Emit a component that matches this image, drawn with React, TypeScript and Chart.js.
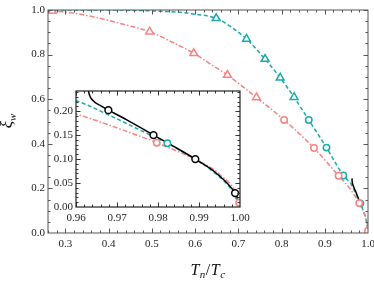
import React, { useEffect, useRef } from 'react';
import { Chart, registerables } from 'chart.js';
Chart.register(...registerables);

// ---------- data ----------
const tealCurveX = [0.26, 0.4, 0.5, 0.56, 0.6, 0.649, 0.685, 0.719, 0.762, 0.797, 0.829, 0.863, 0.904, 0.943, 0.96, 0.968, 0.975, 0.9823, 0.989, 0.994, 0.998, 1.0];
const tealCurveY = [1.0, 1.0, 0.996, 0.99, 0.981, 0.963, 0.922, 0.87, 0.78, 0.696, 0.609, 0.507, 0.383, 0.258, 0.222, 0.192, 0.163, 0.133, 0.1, 0.07, 0.035, 0.0];

const pinkCurveX = [0.26, 0.27, 0.304, 0.38, 0.44, 0.495, 0.55, 0.597, 0.64, 0.675, 0.742, 0.806, 0.875, 0.932, 0.96, 0.97, 0.9797, 0.99, 0.995, 0.9998, 1.0];
const pinkCurveY = [0.997, 0.995, 0.99, 0.963, 0.933, 0.903, 0.853, 0.806, 0.752, 0.708, 0.608, 0.507, 0.381, 0.257, 0.194, 0.165, 0.134, 0.095, 0.068, 0.009, 0.0];

const blackCurveX = [0.963, 0.9632, 0.9642, 0.9659, 0.9679, 0.9724, 0.9789, 0.9837, 0.9891, 0.9943, 0.9988, 0.9994];
const blackCurveY = [0.245, 0.2357, 0.2216, 0.2118, 0.202, 0.1818, 0.15, 0.127, 0.1, 0.07, 0.029, 0.018];
// in the main panel only the upper part of the black curve is visible
const mainBlackMaxX = 0.979;

const tealTriX = [0.649, 0.719, 0.762, 0.797, 0.829];
const tealTriY = [0.963, 0.87, 0.78, 0.696, 0.609];
const tealCircX = [0.863, 0.904, 0.943, 0.9823];
const tealCircY = [0.507, 0.383, 0.258, 0.133];
const pinkTriX = [0.27, 0.495, 0.597, 0.675, 0.742];
const pinkTriY = [0.995, 0.903, 0.806, 0.708, 0.608];
const pinkCircX = [0.806, 0.875, 0.932, 0.9797, 0.9998];
const pinkCircY = [0.507, 0.381, 0.257, 0.134, 0.009];
const blackCircX = [0.9679, 0.9789, 0.9891, 0.9988];
const blackCircY = [0.202, 0.15, 0.1, 0.029];

const mainXTicks = [0.3, 0.4, 0.5, 0.6, 0.7, 0.8, 0.9, 1.0];
const mainXLabels = ['0.3', '0.4', '0.5', '0.6', '0.7', '0.8', '0.9', '1.0'];
const mainYTicks = [0, 0.2, 0.4, 0.6, 0.8, 1.0];
const mainYLabels = ['0.0', '0.2', '0.4', '0.6', '0.8', '1.0'];
const insetXTicks = [0.96, 0.97, 0.98, 0.99, 1.0];
const insetXLabels = ['0.96', '0.97', '0.98', '0.99', '1.00'];
const insetYTicks = [0, 0.05, 0.1, 0.15, 0.2];
const insetYLabels = ['0.00', '0.05', '0.10', '0.15', '0.20'];

// ---------- styles ----------
const TEAL = '#17abab';
const PINK = '#f88282';
const SERIF = '"Liberation Serif", "DejaVu Serif", serif';

const zip = (xs: number[], ys: number[]) => xs.map((x, i) => ({ x, y: ys[i] }));

const stepValues = (min: number, max: number, step: number) => {
  const out: number[] = [];
  const s = Math.ceil(min / step - 1e-9);
  const e = Math.floor(max / step + 1e-9);
  for (let i = s; i <= e; i++) out.push(+(i * step).toFixed(6));
  return out;
};

const lineDs = (pts: { x: number; y: number }[], color: string, dash: number[]) => ({
  data: pts,
  borderColor: color,
  borderWidth: 1.5,
  borderDash: dash,
  pointRadius: 0,
  fill: false,
  cubicInterpolationMode: 'monotone',
  showLine: true,
});

const markerDs = (xs: number[], ys: number[], color: string, style: string, r: number) => ({
  data: zip(xs, ys),
  borderColor: color,
  backgroundColor: '#ffffff',
  pointBorderColor: color,
  pointBackgroundColor: '#ffffff',
  pointBorderWidth: 1.5,
  pointRadius: r,
  pointStyle: style,
  showLine: false,
});

const framePlugin = (cfg: any) => ({
  id: 'frame_' + cfg.name,
  beforeDatasetsDraw(chart: any) {
    if (!cfg.bg) return;
    const { ctx, chartArea: a } = chart;
    ctx.save();
    ctx.fillStyle = '#ffffff';
    ctx.fillRect(a.left, a.top, a.right - a.left, a.bottom - a.top);
    ctx.restore();
  },
  afterDraw(chart: any) {
    const { ctx, chartArea: a, scales } = chart;
    const sx = scales.x, sy = scales.y;
    ctx.save();
    ctx.strokeStyle = cfg.tickColor;
    ctx.lineWidth = 1;
    const seg = (x1: number, y1: number, x2: number, y2: number) => {
      ctx.beginPath(); ctx.moveTo(x1, y1); ctx.lineTo(x2, y2); ctx.stroke();
    };
    const xt = (vals: number[], len: number) => vals.forEach((v) => {
      const p = Math.round(sx.getPixelForValue(v)) + 0.5;
      if (p < a.left || p > a.right) return;
      seg(p, a.bottom, p, a.bottom - len);
      seg(p, a.top, p, a.top + len);
    });
    const yt = (vals: number[], len: number) => vals.forEach((v) => {
      const p = Math.round(sy.getPixelForValue(v)) + 0.5;
      if (p < a.top || p > a.bottom) return;
      seg(a.left, p, a.left + len, p);
      seg(a.right, p, a.right - len, p);
    });
    xt(stepValues(sx.min, sx.max, cfg.xMinor), 2.5);
    xt(stepValues(sx.min, sx.max, cfg.xMajor), 4.5);
    yt(stepValues(sy.min, sy.max, cfg.yMinor), 2.5);
    yt(stepValues(sy.min, sy.max, cfg.yMajor), 4.5);
    ctx.strokeStyle = cfg.frameColor;
    ctx.lineWidth = cfg.frameWidth;
    ctx.strokeRect(a.left, a.top, a.right - a.left, a.bottom - a.top);
    ctx.restore();
  },
});

const titlePlugin = {
  id: 'titles',
  afterDraw(chart: any) {
    const { ctx, chartArea: a } = chart;
    ctx.save();
    ctx.fillStyle = '#111';
    ctx.textBaseline = 'alphabetic';
    // x title T_n/T_c
    const parts: [string, string, number][] = [
      ['T', 'italic 16px ' + SERIF, 0],
      ['n', 'italic 11px ' + SERIF, 3],
      ['/', '16px ' + SERIF, 0],
      ['T', 'italic 16px ' + SERIF, 0],
      ['c', 'italic 11px ' + SERIF, 3],
    ];
    let w = 0;
    parts.forEach(([t, f]) => { ctx.font = f; w += ctx.measureText(t).width + 0.5; });
    let x = (a.left + a.right) / 2 - w / 2;
    parts.forEach(([t, f, dy]) => {
      ctx.font = f; ctx.fillText(t, x, 275 + dy); x += ctx.measureText(t).width + 0.5;
    });
    // y title xi_w (rotated)
    ctx.translate(12, 121);
    ctx.rotate(-Math.PI / 2);
    const yp: [string, string, number][] = [
      ['ξ', 'italic 17px ' + SERIF, 0],
      ['w', 'italic 11px ' + SERIF, 4],
    ];
    let w2 = 0;
    yp.forEach(([t, f]) => { ctx.font = f; w2 += ctx.measureText(t).width; });
    let x2 = -w2 / 2;
    yp.forEach(([t, f, dy]) => { ctx.font = f; ctx.fillText(t, x2, dy); x2 += ctx.measureText(t).width; });
    ctx.restore();
  },
};

const axis = (min: number, max: number, ticks: number[], labels: string[], isX: boolean, size: number, pad: number) => ({
  type: 'linear',
  min,
  max,
  afterBuildTicks: (s: any) => { s.ticks = ticks.map((v) => ({ value: v })); },
  afterFit: (s: any) => {
    if (isX) { s.height = size; s.paddingLeft = 0; s.paddingRight = 0; }
    else { s.width = size; s.paddingTop = 0; s.paddingBottom = 0; }
  },
  grid: { display: false, drawTicks: false },
  border: { display: false },
  ticks: {
    padding: pad,
    color: '#222',
    maxRotation: 0,
    autoSkip: false,
    font: { family: SERIF, size: 11 },
    callback: (_v: any, i: number) => labels[i],
  },
});

export default function App() {
  const mainRef = useRef<HTMLCanvasElement>(null);
  const insetRef = useRef<HTMLCanvasElement>(null);

  useEffect(() => {
    const blackAll = zip(blackCurveX, blackCurveY);
    const blackMain = blackAll.filter((p) => p.x <= mainBlackMaxX);
    const main = new Chart(mainRef.current as HTMLCanvasElement, {
      type: 'line',
      data: {
        datasets: [
          markerDs(pinkCircX, pinkCircY, PINK, 'circle', 3.2),
          markerDs(pinkTriX, pinkTriY, PINK, 'triangle', 4.5),
          markerDs(tealCircX, tealCircY, TEAL, 'circle', 3.2),
          markerDs(tealTriX, tealTriY, TEAL, 'triangle', 4.5),
          lineDs(blackMain, '#000000', []),
          lineDs(zip(pinkCurveX, pinkCurveY), PINK, [5, 2, 1.5, 2]),
          lineDs(zip(tealCurveX, tealCurveY), TEAL, [4, 2.5]),
        ] as any,
      },
      options: {
        animation: false,
        responsive: false,
        maintainAspectRatio: false,
        events: [],
        layout: { padding: { left: 0, top: 10, right: 4, bottom: 0 } },
        plugins: { legend: { display: false }, tooltip: { enabled: false } },
        scales: {
          x: axis(0.26, 1.0, mainXTicks, mainXLabels, true, 50, 5),
          y: axis(0, 1.0, mainYTicks, mainYLabels, false, 48, 3),
        } as any,
      },
      plugins: [
        framePlugin({ name: 'main', xMajor: 0.1, xMinor: 0.02, yMajor: 0.2, yMinor: 0.05, tickColor: '#555', frameColor: '#555', frameWidth: 1, bg: false }),
        titlePlugin,
      ],
    } as any);

    const inset = new Chart(insetRef.current as HTMLCanvasElement, {
      type: 'line',
      data: {
        datasets: [
          markerDs(pinkCircX, pinkCircY, PINK, 'circle', 3.2),
          markerDs(tealCircX, tealCircY, TEAL, 'circle', 3.2),
          markerDs(blackCircX, blackCircY, '#000000', 'circle', 3.4),
          lineDs(blackAll, '#000000', []),
          lineDs(zip(tealCurveX, tealCurveY), TEAL, [4, 2.5]),
          lineDs(zip(pinkCurveX, pinkCurveY), PINK, [5, 2, 1.5, 2]),
        ] as any,
      },
      options: {
        animation: false,
        responsive: false,
        maintainAspectRatio: false,
        events: [],
        layout: { padding: { left: 0, top: 11, right: 10, bottom: 0 } },
        plugins: { legend: { display: false }, tooltip: { enabled: false } },
        scales: {
          x: axis(0.96, 1.0, insetXTicks, insetXLabels, true, 23, 5),
          y: axis(0, 0.242, insetYTicks, insetYLabels, false, 36, 3),
        } as any,
      },
      plugins: [
        framePlugin({ name: 'inset', xMajor: 0.01, xMinor: 0.002, yMajor: 0.05, yMinor: 0.01, tickColor: '#333', frameColor: '#222', frameWidth: 1.2, bg: true }),
      ],
    } as any);

    return () => {
      main.destroy();
      inset.destroy();
    };
  }, []);

  return (
    <div style={{ position: 'fixed', left: 0, top: 0, width: 374, height: 283, background: '#fff' }}>
      <canvas ref={mainRef} width={374} height={283} style={{ position: 'absolute', left: 0, top: 0, width: 374, height: 283 }} />
      <canvas ref={insetRef} width={210} height={150} style={{ position: 'absolute', left: 40, top: 80, width: 210, height: 150 }} />
    </div>
  );
}
